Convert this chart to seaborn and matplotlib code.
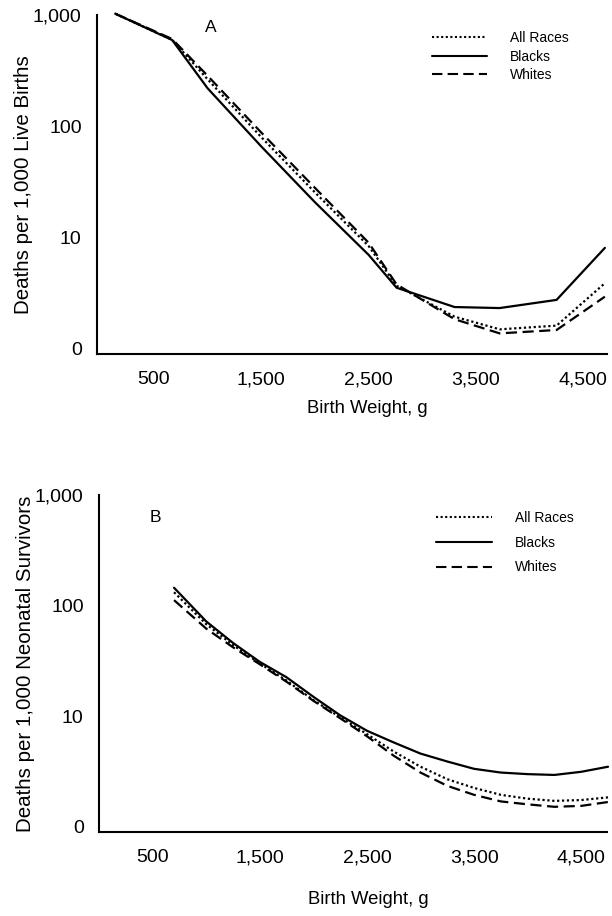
import seaborn as sns
import matplotlib.pyplot as plt
import matplotlib.ticker as mticker
from matplotlib.lines import Line2D
import pandas as pd

# --- Panel A: deaths per 1,000 live births -------------------------
a_weight = [140, 670, 1000, 1500, 2000, 2500, 2760, 3300, 3720, 4250, 4700]
a_all_races = [1030, 600, 265, 80, 25.5, 8.4, 3.7, 1.95, 1.5, 1.62, 3.9]
a_blacks = [1030, 597, 220, 66, 20.8, 7.0, 3.55, 2.38, 2.33, 2.76, 8.1]
a_whites = [1030, 610, 285, 88, 28.0, 9.0, 3.8, 1.85, 1.38, 1.48, 2.95]

# --- Panel B: deaths per 1,000 neonatal survivors ------------------
b_weight = [700, 1000, 1250, 1500, 1750, 2000, 2250, 2500, 2750, 3000,
            3250, 3500, 3750, 4000, 4250, 4500, 4750]
b_all_races = [132, 68, 44, 30, 21, 14, 9.8, 6.9, 4.8, 3.5,
               2.7, 2.25, 1.95, 1.8, 1.72, 1.75, 1.85]
b_blacks = [145, 72, 46, 31, 22.5, 15, 10.2, 7.4, 5.8, 4.6,
            3.9, 3.35, 3.1, 3.0, 2.95, 3.15, 3.5]
b_whites = [112, 62, 42, 29.5, 20.5, 13.8, 9.6, 6.6, 4.4, 3.1,
            2.35, 1.95, 1.7, 1.6, 1.52, 1.55, 1.68]

series_names = ["All Races", "Blacks", "Whites"]
x_ticks = [500, 1500, 2500, 3500, 4500]
y_ticks = [1, 10, 100, 1000]
y_tick_labels = ["0", "10", "100", "1,000"]

STYLES = {"All Races": (0, (1, 1.2)), "Blacks": "-", "Whites": (0, (5, 2.5))}

sns.set_style("white")
plt.rcParams['font.family'] = ['Liberation Sans', 'DejaVu Sans']
plt.rcParams['text.color'] = 'black'
plt.rcParams['axes.labelcolor'] = 'black'

fig = plt.figure(figsize=(6.12, 9.16), dpi=100)
ax_a = fig.add_axes([0.1585, 0.6135, 0.8334, 0.370])
ax_b = fig.add_axes([0.1618, 0.0917, 0.8300, 0.368])


def draw_panel(ax, weight, values, letter, ylabel, xlim, letter_xy,
               legend_xy, spacing, xlabelpad):
    for name, vals in zip(series_names, values):
        df = pd.DataFrame({"weight": weight, "rate": vals})
        sns.lineplot(data=df, x="weight", y="rate", ax=ax, color="black",
                     linewidth=1.6, linestyle=STYLES[name], sort=False,
                     estimator=None, clip_on=False)
    ax.set_yscale("log")
    ax.set_ylim(0.9, 1000)
    ax.set_xlim(*xlim)
    ax.set_xticks(x_ticks)
    ax.xaxis.set_major_formatter(mticker.FuncFormatter(lambda v, p: f"{int(v):,}"))
    ax.set_yticks(y_ticks)
    ax.set_yticklabels(y_tick_labels)
    ax.yaxis.set_minor_locator(mticker.NullLocator())
    ax.tick_params(axis="both", direction="in", length=7, width=1.3,
                   labelsize=14, color="black", labelcolor="black")
    ax.tick_params(axis="x", pad=12.5)
    ax.tick_params(axis="y", pad=11)
    ax.set_xlabel("Birth Weight, g", fontsize=13.3, labelpad=xlabelpad, x=0.53)
    ax.set_ylabel(ylabel, fontsize=14.8, labelpad=0)
    sns.despine(ax=ax)
    for s in ("left", "bottom"):
        ax.spines[s].set_linewidth(1.5)
        ax.spines[s].set_color("black")
    ax.text(letter_xy[0], letter_xy[1], letter, transform=ax.transAxes,
            fontsize=12.5, ha="center", va="center")
    handles = [Line2D([], [], color="black", linewidth=1.5, linestyle=STYLES[n])
               for n in series_names]
    ax.legend(handles, series_names, loc="upper left", bbox_to_anchor=legend_xy,
              frameon=False, fontsize=10, handlelength=4.0, handletextpad=1.65,
              labelspacing=spacing)


draw_panel(ax_a, a_weight, [a_all_races, a_blacks, a_whites], "A",
           "Deaths per 1,000 Live Births", (-30, 4720), (0.224, 0.962),
           (0.632, 0.99), 0.33, 8)
draw_panel(ax_b, b_weight, [b_all_races, b_blacks, b_whites], "B",
           "Deaths per 1,000 Neonatal Survivors", (0, 4740), (0.11, 0.932),
           (0.639, 0.99), 0.78, 18)

fig.savefig("out.png", dpi=100)
